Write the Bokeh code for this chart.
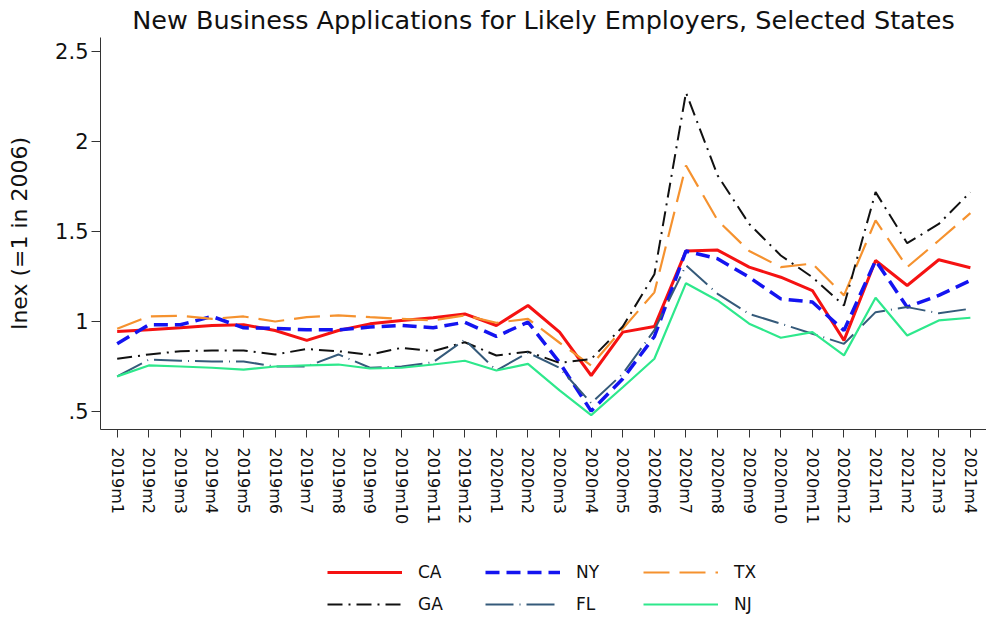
from bokeh.plotting import figure
from bokeh.layouts import column
from bokeh.models import Legend, LegendItem, FixedTicker, Range1d
from bokeh.embed import file_html
from bokeh.resources import INLINE

months = ["2019m1", "2019m2", "2019m3", "2019m4", "2019m5", "2019m6", "2019m7",
          "2019m8", "2019m9", "2019m10", "2019m11", "2019m12",
          "2020m1", "2020m2", "2020m3", "2020m4", "2020m5", "2020m6", "2020m7",
          "2020m8", "2020m9", "2020m10", "2020m11", "2020m12",
          "2021m1", "2021m2", "2021m3", "2021m4"]

CA = [0.943, 0.952, 0.963, 0.976, 0.980, 0.948, 0.893, 0.948, 0.985, 1.004, 1.019, 1.040,
      0.976, 1.087, 0.939, 0.698, 0.939, 0.970, 1.390, 1.395, 1.300, 1.244, 1.170, 0.893,
      1.337, 1.198, 1.341, 1.297]
NY = [0.874, 0.980, 0.980, 1.026, 0.963, 0.960, 0.952, 0.952, 0.967, 0.976, 0.963, 0.994,
      0.915, 0.995, 0.770, 0.500, 0.680, 0.915, 1.390, 1.347, 1.244, 1.124, 1.106, 0.948,
      1.337, 1.078, 1.143, 1.226]
TX = [0.958, 1.026, 1.030, 1.013, 1.026, 0.998, 1.022, 1.032, 1.022, 1.013, 1.004, 1.032,
      0.991, 1.013, 0.880, 0.754, 0.958, 1.160, 1.865, 1.560, 1.390, 1.300, 1.320, 1.143,
      1.560, 1.300, 1.448, 1.600]
GA = [0.791, 0.815, 0.833, 0.837, 0.837, 0.815, 0.845, 0.833, 0.813, 0.852, 0.833, 0.883,
      0.809, 0.830, 0.768, 0.790, 0.970, 1.260, 2.270, 1.810, 1.540, 1.365, 1.244, 1.087,
      1.717, 1.433, 1.540, 1.717]
FL = [0.693, 0.786, 0.780, 0.776, 0.776, 0.748, 0.748, 0.815, 0.741, 0.748, 0.772, 0.897,
      0.726, 0.825, 0.740, 0.545, 0.708, 0.950, 1.310, 1.152, 1.040, 0.986, 0.930, 0.874,
      1.050, 1.078, 1.044, 1.069]
NJ = [0.693, 0.754, 0.748, 0.741, 0.731, 0.748, 0.754, 0.759, 0.737, 0.741, 0.759, 0.780,
      0.726, 0.763, 0.615, 0.478, 0.633, 0.791, 1.211, 1.115, 0.986, 0.908, 0.939, 0.810,
      1.130, 0.920, 1.004, 1.019]

y_ticks = [0.5, 1.0, 1.5, 2.0, 2.5]
y_tick_labels = [".5", "1", "1.5", "2", "2.5"]

FONT = "DejaVu Sans"

p = figure(width=986, height=538, output_backend="svg", toolbar_location=None,
           x_range=Range1d(-0.528, 27.51), y_range=Range1d(0.398, 2.576),
           min_border_left=100, min_border_right=0, min_border_top=37,
           min_border_bottom=109,
           title="New Business Applications for Likely Employers, Selected States")

p.title.align = "center"
p.title.text_font = FONT
p.title.text_font_size = "25.5px"
p.title.text_font_style = "normal"
p.title.text_color = "#111111"
p.title.standoff = 5

p.outline_line_color = None
p.xgrid.visible = False
p.ygrid.visible = False
p.background_fill_color = "white"
p.border_fill_color = "white"

xs = list(range(len(months)))

p.xaxis.ticker = FixedTicker(ticks=xs)
p.xaxis.major_label_overrides = {i: m for i, m in enumerate(months)}
p.xaxis.major_label_orientation = "vertical"
p.xaxis.major_label_text_font = FONT
p.xaxis.major_label_text_font_size = "16px"
p.xaxis.major_label_text_color = "#111111"
p.xaxis.major_tick_out = 8
p.xaxis.major_tick_in = 0
p.xaxis.minor_tick_out = 0
p.xaxis.minor_tick_in = 0
p.xaxis.axis_line_color = "#333333"
p.xaxis.major_tick_line_color = "#333333"
p.xaxis.major_label_standoff = 10

p.yaxis.ticker = FixedTicker(ticks=y_ticks)
p.yaxis.major_label_overrides = {t: l for t, l in zip(y_ticks, y_tick_labels)}
p.yaxis.major_label_text_font = FONT
p.yaxis.major_label_text_font_size = "21px"
p.yaxis.major_label_text_color = "#111111"
p.yaxis.major_tick_out = 9
p.yaxis.major_tick_in = 0
p.yaxis.minor_tick_out = 0
p.yaxis.minor_tick_in = 0
p.yaxis.axis_line_color = "#333333"
p.yaxis.major_tick_line_color = "#333333"
p.yaxis.major_label_standoff = 3
p.yaxis.axis_label = "Inex (=1 in 2006)"
p.yaxis.axis_label_text_font = FONT
p.yaxis.axis_label_text_font_size = "22px"
p.yaxis.axis_label_text_font_style = "normal"
p.yaxis.axis_label_text_color = "#111111"
p.yaxis.axis_label_standoff = 20

series = [
    ("CA", CA, "#f51212", 3.0, "solid"),
    ("NY", NY, "#1414f0", 3.5, "14 7"),
    ("TX", TX, "#f5922f", 2.2, "26 10"),
    ("GA", GA, "#111111", 2.0, "15 6 2 6"),
    ("FL", FL, "#355a7a", 2.0, "28 6 1 6"),
    ("NJ", NJ, "#2ee88c", 2.2, "solid"),
]

for name, vals, color, w, dash in series:
    p.line(xs, vals, line_color=color, line_width=w, line_dash=dash)

# legend strip below the chart; its lines use the same series but lie outside its view
q = figure(width=986, height=81, output_backend="svg", toolbar_location=None,
           x_axis_type=None, y_axis_type=None,
           x_range=Range1d(-1000, -999), y_range=Range1d(-1000, -999),
           min_border_left=0, min_border_right=0, min_border_top=0, min_border_bottom=0)
q.outline_line_color = None
q.xgrid.visible = False
q.ygrid.visible = False
q.background_fill_color = "white"
q.border_fill_color = "white"

key_renderers = {}
for name, vals, color, w, dash in series:
    key_renderers[name] = q.line(xs, vals, line_color=color, line_width=w, line_dash=dash)

order = ["CA", "NY", "TX", "GA", "FL", "NJ"]
legend = Legend(items=[LegendItem(label=n, renderers=[key_renderers[n]]) for n in order],
                location=(227, 5), orientation="horizontal", ncols=3,
                glyph_width=75, glyph_height=20, label_height=20, label_width=55,
                label_standoff=16, spacing=12, padding=0, margin=0,
                border_line_color=None, background_fill_alpha=0,
                label_text_font=FONT, label_text_font_size="17px",
                label_text_color="#111111")
q.add_layout(legend, "center")

layout = column(p, q, spacing=0)
open("out.html", "w").write(file_html(layout, INLINE))
